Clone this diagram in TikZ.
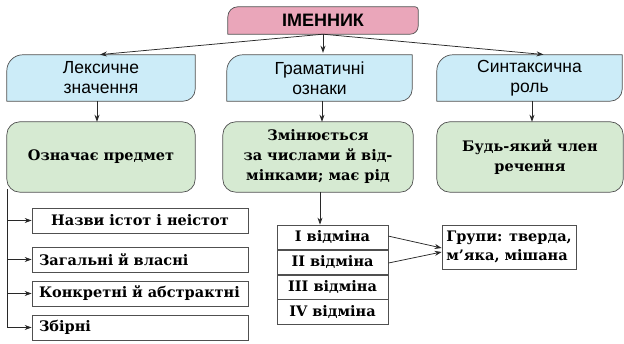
\documentclass[tikz,border=0pt]{standalone}
\usepackage{fontspec}
\setmainfont{DejaVu Serif}
\newfontfamily\hsans{Liberation Sans}
\usetikzlibrary{arrows.meta,calc,backgrounds}
\definecolor{pinkf}{RGB}{234,166,186}
\definecolor{bluef}{RGB}{204,236,248}
\definecolor{greenf}{RGB}{214,234,210}
\definecolor{edge}{RGB}{80,80,80}
\definecolor{lin}{RGB}{40,40,40}
\newcommand\shapebox[6]{%
  \path[#1] ($(#2.north west)+(#3pt,0)$) -- ($(#2.north east)+(-#4pt,0)$)
    arc[start angle=90,end angle=0,radius=#4pt] -- ($(#2.south east)+(0,#5pt)$)
    arc[start angle=0,end angle=-90,radius=#5pt] -- ($(#2.south west)+(#6pt,0)$)
    arc[start angle=270,end angle=180,radius=#6pt] -- ($(#2.north west)+(0,-#3pt)$)
    arc[start angle=180,end angle=90,radius=#3pt] -- cycle;}
\tikzset{
  holder/.style={rectangle,inner sep=0pt,align=center},
  pinkbox/.style={holder,font=\hsans\bfseries\fontsize{18}{20}\selectfont},
  bluebox/.style={holder,minimum height=46pt,font=\hsans\fontsize{17.5}{20}\selectfont},
  greenbox/.style={holder,minimum height=70pt,font=\bfseries\fontsize{14.5}{20}\selectfont},
  whitebox/.style={rectangle,draw=edge,line width=0.7pt,fill=white,minimum width=216pt,minimum height=25pt,inner sep=0pt,font=\bfseries\fontsize{14.5}{16}\selectfont},
  leftbox/.style={whitebox,text width=202pt,align=left},
  rowbox/.style={rectangle,draw=edge,line width=0.7pt,fill=white,minimum width=111pt,minimum height=24.25pt,inner sep=0pt,font=\bfseries\fontsize{14.5}{16}\selectfont},
  arr/.style={draw=lin,line width=0.75pt,-{Stealth[length=7pt,width=5pt]}},
  ln/.style={draw=lin,line width=0.75pt},
  pinkfill/.style={fill=pinkf,draw=edge,line width=0.7pt},
  bluefill/.style={fill=bluef,draw=edge,line width=0.7pt},
  greenfill/.style={fill=greenf,draw=edge,line width=0.7pt},
}
\begin{document}
\begin{tikzpicture}[x=1pt,y=1pt]
\useasboundingbox (0,0) rectangle (624,344);
% top
\node[pinkbox,minimum width=190pt,minimum height=27pt] (imen) at (323,323.5) {ІМЕННИК};
\node[bluebox,minimum width=188pt] (lex) at (101,266) {Лексичне\\значення};
\node[bluebox,minimum width=185pt] (gram) at (319.5,266) {Граматичні\\ознаки};
\node[bluebox,minimum width=185pt] (synt) at (529.5,266) {Синтаксична\\роль};
\node[greenbox,minimum width=188pt] (oz) at (101,187) {Означає предмет};
\node[greenbox,minimum width=190pt] (zm) at (318,187) {Змінюється\\за числами й від-\\мінками; має рід};
\node[greenbox,minimum width=186pt] (bud) at (530,187) {Будь-який член\\речення};
\begin{scope}[on background layer]
\shapebox{pinkfill}{imen}{10}{3}{8}{0.01}
\shapebox{bluefill}{lex}{16}{0.01}{12}{0.01}
\shapebox{bluefill}{gram}{16}{0.01}{12}{0.01}
\shapebox{bluefill}{synt}{16}{0.01}{12}{0.01}
\shapebox{greenfill}{oz}{13}{13}{13}{13}
\shapebox{greenfill}{zm}{13}{13}{13}{13}
\shapebox{greenfill}{bud}{13}{13}{13}{13}
\end{scope}
% left list
\node[whitebox] (n1) at (140,123.5) {Назви істот і неістот};
\node[leftbox] (n2) at (140,84.5) {Загальні й власні};
\node[leftbox] (n3) at (140,50.5) {Конкретні й абстрактні};
\node[leftbox] (n4) at (140,16.5) {Збірні};
% table
\node[rowbox] (v1) at (332.5,106.9) {I відміна};
\node[rowbox,anchor=north] (v2) at (v1.south) {II відміна};
\node[rowbox,anchor=north] (v3) at (v2.south) {III відміна};
\node[rowbox,anchor=north] (v4) at (v3.south) {IV відміна};
\node[whitebox,minimum width=134pt,minimum height=44pt,align=left,font=\bfseries\fontsize{14.5}{19}\selectfont] (gr) at (509,97) {Групи: тверда,\\м’яка, мішана};
% connectors
\draw[arr,shorten >=2pt] (imen.south) -- ([xshift=-3pt]lex.north);
\draw[arr,shorten >=2pt] (imen.south) -- (imen.south |- gram.north);
\draw[arr,shorten >=3pt] (imen.south) -- ([xshift=17pt]synt.north);
\draw[arr] ([xshift=-4pt]lex.south) -- ([xshift=-4pt]oz.north);
\draw[arr] ([xshift=2.5pt]gram.south) -- ([xshift=4pt]zm.north);
\draw[arr] ([xshift=2.5pt]synt.south) -- ([xshift=2pt]bud.north);
\coordinate (trunk) at ([xshift=0.5pt]oz.south west);
\draw[ln] ([yshift=3pt]trunk) -- (trunk |- n4.west);
\foreach \n in {n1,n2,n3,n4}{\draw[arr] (trunk |- \n.west) -- (\n.west);}
\draw[arr] ([xshift=2pt]zm.south) -- ([xshift=2pt]zm.south |- v1.north);
\draw[arr] ([yshift=1pt]v1.east) -- ([yshift=-1pt]gr.west);
\draw[arr] ([yshift=-1pt]v2.east) -- ([yshift=-5pt]gr.west);
\end{tikzpicture}
\end{document}
